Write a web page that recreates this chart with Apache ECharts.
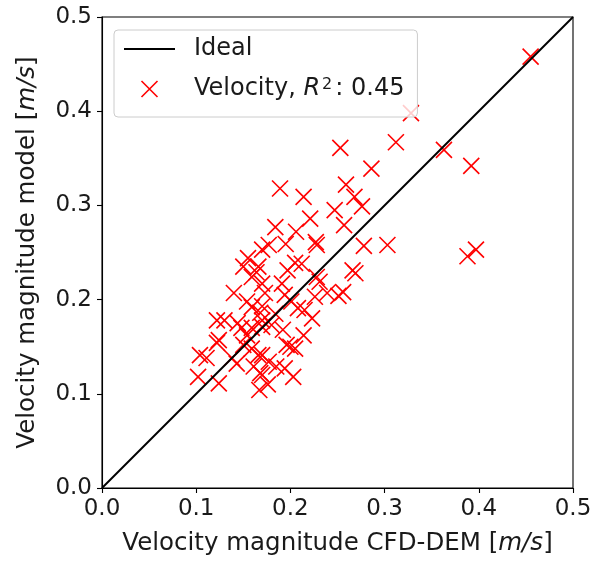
<!DOCTYPE html>
<html>
<head>
<meta charset="utf-8">
<script src="https://cdn.jsdelivr.net/npm/echarts@6/dist/echarts.min.js"></script>
<style>html,body{margin:0;padding:0;background:#fff;}#c{width:590px;height:563px;}</style>
</head>
<body>
<div id="c"></div>
<script>
var xTicks = [0.0, 0.1, 0.2, 0.3, 0.4, 0.5];
var yTicks = [0.0, 0.1, 0.2, 0.3, 0.4, 0.5];
var idealLine = [[0, 0], [0.5, 0.5]];
var cfdDem = [0.455,0.328,0.363,0.392,0.312,0.253,0.286,0.259,0.268,0.276,0.247,0.214,0.189,0.221,0.257,0.227,0.228,0.278,0.303,0.388,0.397,0.266,0.269,0.184,0.206,0.177,0.195,0.205,0.212,0.197,0.166,0.170,0.173,0.191,0.194,0.201,0.231,0.239,0.226,0.215,0.208,0.223,0.170,0.184,0.170,0.122,0.130,0.124,0.122,0.104,0.111,0.102,0.124,0.138,0.143,0.148,0.154,0.159,0.150,0.159,0.166,0.161,0.168,0.167,0.176,0.170,0.200,0.196,0.205,0.214,0.170,0.177,0.185,0.194,0.203,0.170,0.155,0.150,0.164,0.159,0.170,0.140,0.154,0.159,0.168,0.144,0.180,0.228,0.251,0.256,0.192];
var model =  [0.458,0.398,0.359,0.342,0.367,0.361,0.339,0.322,0.309,0.299,0.295,0.309,0.318,0.286,0.279,0.261,0.258,0.257,0.258,0.246,0.253,0.231,0.228,0.277,0.272,0.258,0.259,0.239,0.238,0.231,0.235,0.217,0.207,0.217,0.205,0.198,0.219,0.207,0.203,0.189,0.191,0.180,0.193,0.185,0.178,0.178,0.178,0.157,0.154,0.141,0.138,0.118,0.111,0.138,0.132,0.170,0.162,0.170,0.152,0.148,0.141,0.129,0.122,0.104,0.110,0.171,0.150,0.152,0.148,0.162,0.141,0.134,0.129,0.127,0.118,0.120,0.244,0.235,0.229,0.224,0.253,0.207,0.198,0.192,0.186,0.175,0.173,0.224,0.204,0.208,0.168];
var velocityName = 'Velocity, R²: 0.45';

var pts = cfdDem.map(function (x, i) { return [x, model[i]]; });
var font = 'DejaVu Sans';
var txt = '#1a1a1a';
var chart = echarts.init(document.getElementById('c'), null, {renderer: 'canvas'});
var crossPath = 'path://M0,0L10,10M10,0L0,10';
chart.setOption({
  animation: false,
  backgroundColor: '#fff',
  grid: {left: 102, right: 17, top: 17, bottom: 75, containLabel: false, outerBoundsMode: 'none', show: true, borderColor: '#000', borderWidth: 1.1, backgroundColor: 'transparent'},
  xAxis: {
    type: 'value', min: xTicks[0], max: xTicks[xTicks.length - 1], interval: 0.1,
    name: 'Velocity magnitude CFD-DEM [{i|m/s}]', nameLocation: 'middle', nameGap: 43,
    nameTextStyle: {fontFamily: font, fontSize: 24.5, color: txt, rich: {i: {fontFamily: font, fontSize: 24.5, fontStyle: 'italic', color: txt}}},
    axisLine: {show: true, lineStyle: {color: '#000', width: 1.1}},
    axisTick: {show: true, inside: false, length: 5, lineStyle: {color: '#000', width: 1.1}},
    axisLabel: {margin: 10, fontFamily: font, fontSize: 23, color: txt, formatter: function (v) { return v.toFixed(1); }},
    splitLine: {show: false}
  },
  yAxis: {
    type: 'value', min: yTicks[0], max: yTicks[yTicks.length - 1], interval: 0.1,
    name: 'Velocity magnitude model [{i|m/s}]', nameLocation: 'middle', nameGap: 62,
    nameTextStyle: {fontFamily: font, fontSize: 24.5, color: txt, rich: {i: {fontFamily: font, fontSize: 24.5, fontStyle: 'italic', color: txt}}},
    axisLine: {show: true, lineStyle: {color: '#000', width: 1.1}},
    axisTick: {show: true, inside: false, length: 5, lineStyle: {color: '#000', width: 1.1}},
    axisLabel: {margin: 10, fontFamily: font, fontSize: 23, color: txt, formatter: function (v) { return v.toFixed(1); }},
    splitLine: {show: false}
  },
  legend: {
    orient: 'vertical', left: 114, top: 30,
    padding: [7, 13, 16, 9], itemGap: 16, itemWidth: 51, itemHeight: 16,
    backgroundColor: 'rgba(255,255,255,0.8)', borderColor: '#cccccc', borderWidth: 1, borderRadius: 4,
    data: [
      {name: 'Ideal', itemStyle: {color: 'transparent', borderWidth: 0, opacity: 0}},
      {name: velocityName, icon: crossPath, itemStyle: {color: 'transparent', borderColor: '#ff0000', borderWidth: 1.6}}
    ],
    formatter: function (name) {
      if (name === velocityName) return '{g|}{a|Velocity, }{i|R}{s|2}{a|: 0.45}';
      return '{g|}{a|' + name + '}';
    },
    textStyle: {
      fontFamily: font, fontSize: 24, color: txt, lineHeight: 24,
      rich: {
        g: {width: 14},
        a: {fontFamily: font, fontSize: 24, color: txt, lineHeight: 24},
        i: {fontFamily: font, fontSize: 24, color: txt, fontStyle: 'italic', lineHeight: 24},
        s: {fontFamily: font, fontSize: 16, color: txt, lineHeight: 16, verticalAlign: 'top', padding: [0, 3, 0, 2]}
      }
    }
  },
  series: [
    {
      name: 'Ideal', type: 'line', data: idealLine, symbol: 'none', showSymbol: false,
      lineStyle: {color: '#000', width: 2}, itemStyle: {color: 'transparent', borderWidth: 0}, z: 3, silent: true
    },
    {
      name: velocityName, type: 'scatter', data: pts, symbol: crossPath, symbolSize: 16, symbolKeepAspect: true,
      itemStyle: {color: 'transparent', borderColor: '#ff0000', borderWidth: 1.6, opacity: 1}, z: 2
    }
  ]
});
</script>
</body>
</html>
